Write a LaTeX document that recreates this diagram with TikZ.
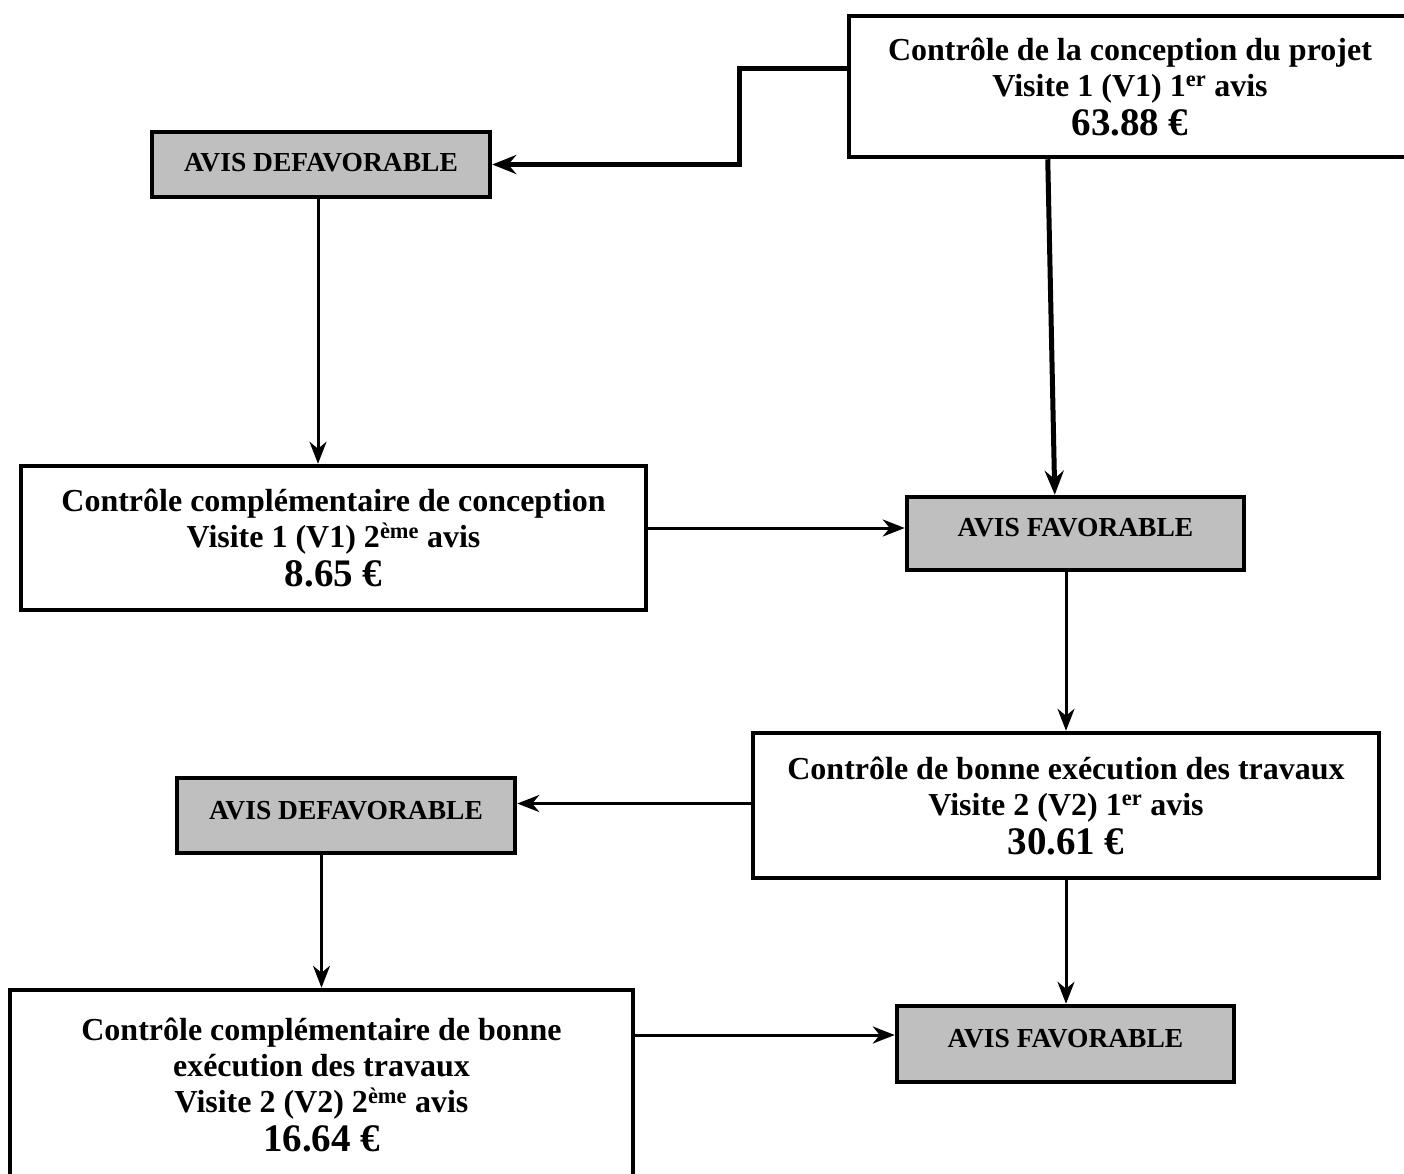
\documentclass[tikz,border=0pt]{standalone}
\usepackage{fontspec}
\setmainfont{Liberation Serif}
\usetikzlibrary{arrows.meta,calc}
\tikzset{
  bigbox/.style={draw=black, line width=4.5pt, fill=white, align=center, font=\bfseries\fontsize{32}{36}\selectfont, inner sep=0pt},
  avisbox/.style={draw=black, line width=4.5pt, fill=black!25, align=center, font=\bfseries\fontsize{27.5}{30}\selectfont, inner sep=0pt},
  conn/.style={line width=3pt, -{Stealth[length=22pt,width=17pt,inset=7pt]}},
  thickconn/.style={line width=5pt, -{Stealth[length=24pt,width=19pt,inset=8pt]}}
}
\newcommand{\pr}[1]{{\fontsize{39}{40}\selectfont #1}}
\begin{document}
\begin{tikzpicture}[x=1pt,y=-1pt]
\useasboundingbox (0,0) rectangle (1404,1173);
% boxes
\node[bigbox, minimum width=562pt, minimum height=141pt] (b1) at (1130,86.5)
  {Contrôle de la conception du projet\\Visite 1 (V1) 1\textsuperscript{er} avis\\[3pt]\pr{63.88 €}};
\node[avisbox, minimum width=338pt, minimum height=65pt, text depth=4pt] (d1) at (321,164.5) {AVIS DEFAVORABLE};
\node[bigbox, minimum width=625pt, minimum height=144pt] (b3) at (333.5,538)
  {Contrôle complémentaire de conception\\Visite 1 (V1) 2\textsuperscript{ème} avis\\[3pt]\pr{8.65 €}};
\node[avisbox, minimum width=337pt, minimum height=73pt, text depth=12pt] (f1) at (1075.5,533.5) {AVIS FAVORABLE};
\node[bigbox, minimum width=626pt, minimum height=145pt] (b5) at (1066,805.5)
  {Contrôle de bonne exécution des travaux\\Visite 2 (V2) 1\textsuperscript{er} avis\\[3pt]\pr{30.61 €}};
\node[avisbox, minimum width=338pt, minimum height=75pt, text depth=10pt] (d2) at (346,815.5) {AVIS DEFAVORABLE};
\node[bigbox, minimum width=623pt, minimum height=190pt] (b7) at (321.5,1085)
  {Contrôle complémentaire de bonne\\exécution des travaux\\Visite 2 (V2) 2\textsuperscript{ème} avis\\[3pt]\pr{16.64 €}};
\node[avisbox, minimum width=337pt, minimum height=76pt, text depth=12pt] (f2) at (1065.5,1044) {AVIS FAVORABLE};
% helper coordinates
\coordinate (c1) at ($(b1.north west)+(0,55)$);
\coordinate (c2) at ($(b1.south west)+(201,0)$);
\coordinate (c3) at ($(f1.north west)+(150,0)$);
\coordinate (c4) at ($(d1.south)+(-3,0)$);
\coordinate (c5) at ($(f1.west)+(0,-5.5)$);
\coordinate (c6) at ($(b5.west)+(0,-2)$);
\coordinate (c7) at ($(f2.west)+(0,-9)$);
% connectors
\draw[thickconn] (c1) -- ++(-107,0) |- (d1.east);
\draw[thickconn] (c2) -- (c3);
\draw[conn] (c4) -- (c4 |- b3.north);
\draw[conn] (c5 -| b3.east) -- (c5);
\draw[conn] (b5.north |- f1.south) -- (b5.north);
\draw[conn] (c6) -- (c6 -| d2.east);
\draw[conn] (b7.north |- d2.south) -- (b7.north);
\draw[conn] (b5.south) -- (b5.south |- f2.north);
\draw[conn] (c7 -| b7.east) -- (c7);
\end{tikzpicture}
\end{document}
